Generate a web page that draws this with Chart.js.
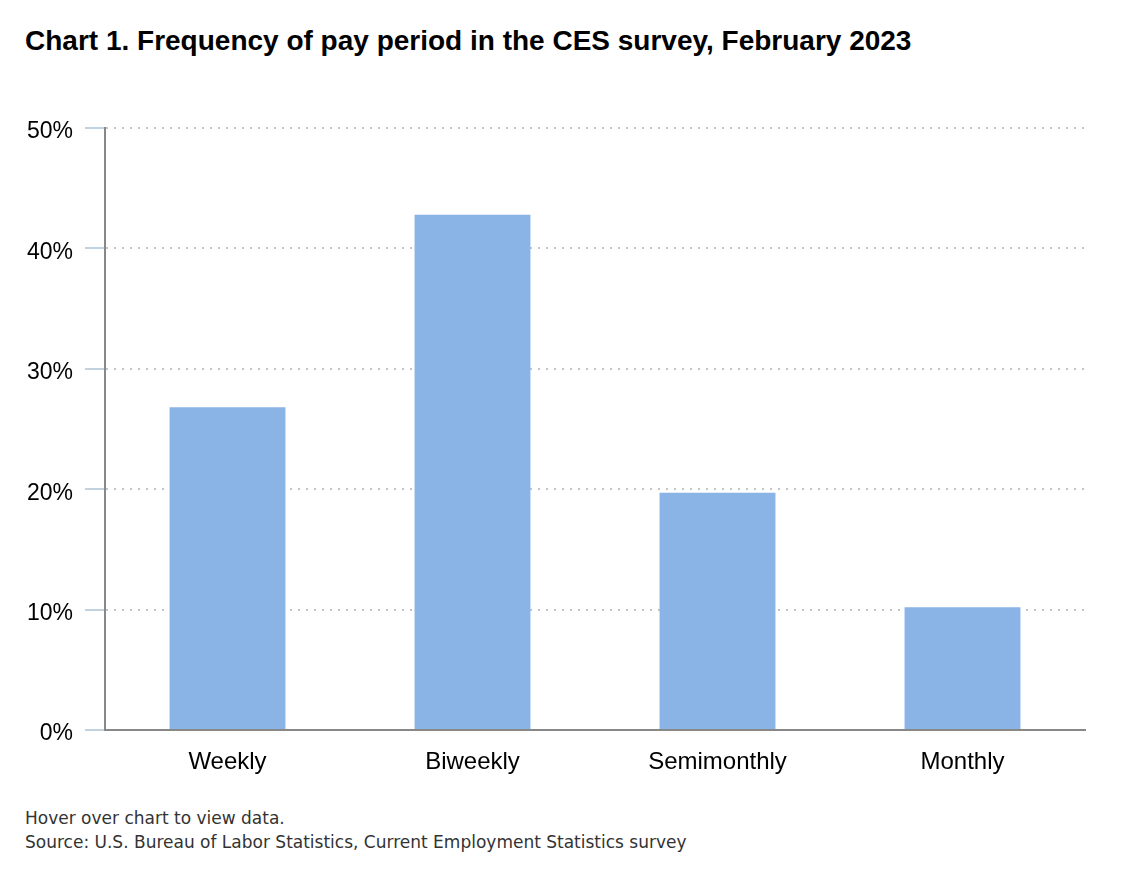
<!DOCTYPE html>
<html>
<head>
<meta charset="utf-8">
<script src="https://cdn.jsdelivr.net/npm/chart.js@4.4.0/dist/chart.umd.min.js"></script>
<style>
  body { margin: 0; background: #fff; width: 1134px; height: 886px; position: relative; overflow: hidden; }
  #title { position: absolute; left: 25px; top: 25px; font: bold 28px "Liberation Sans", Arial, sans-serif; line-height: 32px; color: #000; white-space: nowrap; }
  #wrap { position: absolute; left: 0; top: 100px; width: 1134px; height: 690px; }
  #foot { position: absolute; left: 25px; top: 806px; font: 17px "DejaVu Sans", Verdana, sans-serif; line-height: 24px; color: #333; white-space: nowrap; }
</style>
</head>
<body>
<div id="title">Chart 1. Frequency of pay period in the CES survey, February 2023</div>
<div id="wrap"><canvas id="canvas"></canvas></div>
<div id="foot">Hover over chart to view data.<br>Source: U.S. Bureau of Labor Statistics, Current Employment Statistics survey</div>
<script>
const categories = ["Weekly", "Biweekly", "Semimonthly", "Monthly"];
const shares = [26.8, 42.8, 19.7, 10.2]; // percent of employees
const yTicks = [0, 10, 20, 30, 40, 50];

function chart() {
  const ctx = document.getElementById("canvas").getContext("2d");
  new Chart(ctx, {
    type: "bar",
    data: {
      labels: categories,
      datasets: [
        {
          label: "Percent",
          data: shares,
          backgroundColor: "#8ab3e6",
          categoryPercentage: 1,
          barPercentage: 0.473,
        },
      ],
    },
    options: {
      responsive: true,
      maintainAspectRatio: false,
      animation: false,
      layout: { padding: { left: 25, right: 49, top: 28, bottom: 0 } },
      plugins: { legend: { display: false }, title: { display: false } },
      scales: {
        x: {
          grid: { drawOnChartArea: false, drawTicks: false },
          border: { color: "#888", width: 2 },
          ticks: { color: "#000", padding: 18, font: { family: "Liberation Sans", size: 24 } },
          afterFit: (s) => { s.height = 60; },
        },
        y: {
          min: 0,
          max: 50,
          afterBuildTicks: (s) => { s.ticks = yTicks.map((v) => ({ value: v })); },
          grid: { color: "#c4c4c4", lineWidth: 2, tickColor: "#c3d2e0", tickLength: 20, tickWidth: 2 },
          border: { color: "#888", width: 2, dash: [2, 6] },
          ticks: {
            color: "#000",
            padding: 12,
            labelOffset: 4,
            font: { family: "Liberation Sans", size: 23 },
            callback: (v) => v + "%",
          },
          afterFit: (s) => { s.width = 80; },
        },
      },
    },
  });
}
chart();
</script>
</body>
</html>
